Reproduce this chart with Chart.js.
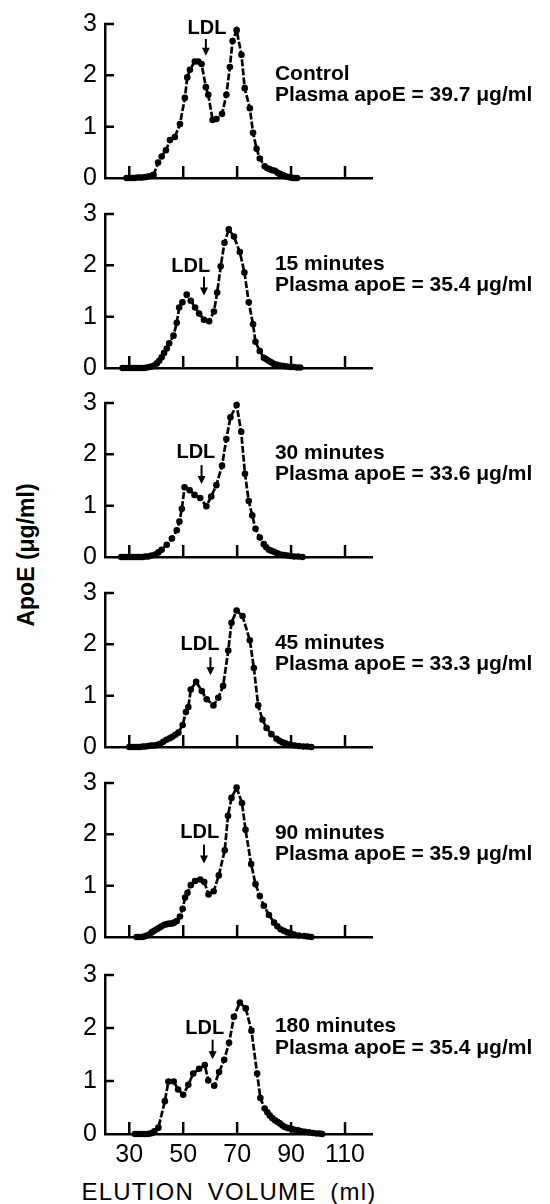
<!DOCTYPE html>
<html><head><meta charset="utf-8">
<script src="https://cdn.jsdelivr.net/npm/chart.js@4.4.1/dist/chart.umd.min.js"></script>
<style>
html,body{margin:0;padding:0;background:#fff;}
body{width:550px;height:1204px;position:relative;overflow:hidden;font-family:"Liberation Sans",Arial,sans-serif;color:#000;}
canvas{position:absolute;left:0;}
#ytitle{position:absolute;left:26px;top:555px;transform:translate(-50%,-50%) rotate(-90deg);font-size:23px;font-weight:bold;white-space:nowrap;}
#xtitle{position:absolute;left:229px;top:1192px;transform:translate(-50%,-50%);font-size:24px;letter-spacing:1.2px;word-spacing:6px;white-space:nowrap;}
</style></head>
<body>
<div id="ytitle">ApoE (μg/ml)</div>
<div id="xtitle">ELUTION VOLUME (ml)</div>
<script>
// ---- data ----
const xTicks = [30, 50, 70, 90, 110];
const yTicks = [0, 1, 2, 3];
const panelNames = ['Control', '15 minutes', '30 minutes', '45 minutes', '90 minutes', '180 minutes'];
const plasmaApoE = ['39.7', '35.4', '33.6', '33.3', '35.9', '35.4'];

const volControl = [29,30,31,32,33,34,35,36,37,38,39,40.7,42,43.6,45.1,46.9,48.8,50.6,51.5,52.5,54.3,55.6,56.8,58.4,59.3,60.9,62.3,64.4,66,67.3,68.3,69.8,71.6,72.8,74.7,75.9,77.2,78.4,80.2,81.2,82.1,83,84,85,85.8,86.6,87.3,88.1,88.9,89.8,90.7,91.5,92.2];
const apoControl = [0,0,0,0,0.01,0.01,0.01,0.02,0.03,0.04,0.06,0.30,0.42,0.54,0.74,0.80,1.05,1.56,1.96,2.11,2.27,2.27,2.22,1.77,1.62,1.13,1.15,1.25,1.62,2.16,2.67,2.88,2.40,1.75,1.36,0.88,0.57,0.38,0.23,0.19,0.17,0.15,0.14,0.10,0.08,0.06,0.05,0.03,0.02,0.01,0,0,0];

const vol15 = [27.5,28.5,29.5,30.5,31.5,32.5,33.5,34.5,35.5,36.5,37.5,38.3,39.2,40.2,41.1,42,42.9,43.9,44.8,46.4,47.6,48.5,49.7,51.3,52.8,54.4,55.9,57.7,59.6,61.4,62.6,63.9,65.3,66.9,68.8,71,72.7,74.3,75.9,76.8,78.4,79.9,80.8,81.7,82.6,83.6,84.8,86,87.2,88.5,89.8,91,92.2,93.4];
const apo15 = [0,0,0,0,0,0,0,0,0,0.01,0.02,0.03,0.05,0.09,0.14,0.21,0.29,0.38,0.48,0.63,0.88,1.18,1.28,1.43,1.31,1.18,1.06,0.94,0.91,1.10,1.47,1.98,2.44,2.70,2.56,2.26,1.86,1.28,0.85,0.51,0.33,0.20,0.17,0.14,0.11,0.08,0.06,0.05,0.04,0.03,0.02,0.02,0.01,0.01];

const vol30 = [27,28,29,30,31,32,33,34,35,36,37,38.2,39.6,40.8,42,43.9,45.8,47.6,48.6,49.5,50.5,52.4,54.2,56.3,58.6,60.4,62.3,64.4,66,67.5,69.8,71.5,72.9,74.3,75.6,76.8,78.4,79.9,80.8,81.8,82.7,83.7,84.9,86.1,87.3,88.6,89.8,91.1,92.6,94.2];
const apo30 = [0,0,0,0,0,0,0,0,0,0.01,0.01,0.03,0.05,0.09,0.14,0.24,0.36,0.52,0.69,0.94,1.36,1.30,1.21,1.15,0.99,1.18,1.40,1.78,2.30,2.72,2.96,2.44,1.62,1.09,0.81,0.55,0.38,0.25,0.19,0.14,0.12,0.10,0.07,0.05,0.04,0.03,0.02,0.01,0.01,0];

const vol45 = [30,31,32,33,34,35,36,37,38,39,40,41.4,42.6,43.8,45,46,47.1,48.2,49.8,51,51.9,52.8,54.8,56.9,58.7,61.2,63,64.8,66.7,67.9,69.8,72,74.7,76.2,77.8,79.4,80.9,82.7,84.6,85.7,86.8,87.9,88.9,90.1,91.4,92.9,94.5,96,97.5];
const apo45 = [0,0,0,0,0,0.01,0.01,0.02,0.03,0.03,0.04,0.06,0.10,0.14,0.17,0.20,0.24,0.28,0.43,0.68,0.78,1.12,1.27,1.09,0.93,0.81,0.96,1.19,1.88,2.42,2.66,2.55,2.08,1.54,0.81,0.53,0.37,0.25,0.16,0.12,0.09,0.07,0.05,0.04,0.03,0.02,0.01,0.01,0];

const vol90 = [32.7,33.6,34.6,35.5,36.5,37.4,38.3,39.2,40.2,41.1,42,43,43.9,44.8,45.7,46.6,47.6,48.8,49.8,50.7,51.6,52.8,54.4,56.3,57.8,59.4,61.3,63.2,65.4,66.6,67.9,69.8,71.8,73.1,75.2,76.8,78.4,79.9,81.8,83.7,84.9,86.1,87.3,88.6,89.8,91.1,92.9,94.8,96.2,97.5];
const apo90 = [0,0,0,0.01,0.03,0.05,0.09,0.12,0.15,0.18,0.21,0.24,0.25,0.26,0.26,0.28,0.31,0.40,0.55,0.77,0.86,1.01,1.09,1.12,1.07,0.83,0.89,1.20,1.69,2.36,2.71,2.91,2.61,2.09,1.42,1.03,0.80,0.61,0.43,0.28,0.21,0.15,0.12,0.09,0.07,0.05,0.03,0.02,0.01,0];

const vol180 = [32.1,33,34,34.9,35.8,36.8,37.7,38.5,39.3,40.8,43.2,44.5,46.5,48.1,50,51.9,53.7,55.9,58,59.3,61.5,63.3,65.2,67,68.8,71,73.2,75.3,77.4,78.6,80.2,81.2,82.1,83,84,84.9,85.8,86.8,87.7,88.9,90.1,91.3,92.6,93.8,95.1,96.6,98.1,99.4,100.6,101.5];
const apo180 = [0,0,0,0,0,0,0.01,0.02,0.05,0.12,0.62,0.99,0.99,0.84,0.74,0.93,1.14,1.23,1.30,1.01,0.91,1.17,1.40,1.72,2.21,2.48,2.37,1.95,1.14,0.68,0.48,0.41,0.35,0.30,0.26,0.23,0.20,0.16,0.13,0.11,0.10,0.08,0.07,0.05,0.04,0.03,0.02,0.01,0.01,0];

const volumes = [volControl, vol15, vol30, vol45, vol90, vol180];
const apoE = [apoControl, apo15, apo30, apo45, apo90, apo180];

// LDL marker (elution volume of arrow, label) and its levels
const ldlArrowVol = [58.4, 57.7, 56.8, 60.1, 57.7, 60.9];
const ldlArrowTop = [2.71, 1.78, 1.79, 1.75, 1.80, 1.78];
const ldlArrowTip = [2.38, 1.41, 1.42, 1.40, 1.43, 1.41];
const ldlLabelVol = [58.8, 52.8, 54.7, 56.2, 56.1, 58.0];
const ldlLabelLevel = [2.92, 1.97, 2.03, 1.99, 2.04, 2.00];

// ---- layout ----
const baselines = [183, 372.5, 562, 752, 942, 1134];
const PLOT_H = 162, PAD_T = 20;
const FONT = '"Liberation Sans", Arial, sans-serif';

const annotPlugin = {
  id: 'annot',
  afterDraw(chart) {
    const k = chart.options.plugins.annot.k;
    const { ctx, chartArea } = chart;
    const x = chart.scales.x, y = chart.scales.y;
    ctx.save();
    ctx.strokeStyle = '#000'; ctx.fillStyle = '#000';
    ctx.lineWidth = 2.5;
    ctx.beginPath();
    yTicks.forEach(v => {
      if (v > 0) { const py = y.getPixelForValue(v); ctx.moveTo(chartArea.left - 1, py); ctx.lineTo(chartArea.left + 9, py); }
    });
    xTicks.forEach(v => {
      const px = x.getPixelForValue(v); ctx.moveTo(px, chartArea.bottom); ctx.lineTo(px, chartArea.bottom - 12);
    });
    ctx.stroke();
    // LDL label + arrow
    ctx.font = 'bold 20px ' + FONT;
    ctx.textAlign = 'center'; ctx.textBaseline = 'middle';
    ctx.fillText('LDL', x.getPixelForValue(ldlLabelVol[k]), y.getPixelForValue(ldlLabelLevel[k]));
    const ax = x.getPixelForValue(ldlArrowVol[k]);
    const y1 = y.getPixelForValue(ldlArrowTop[k]), y2 = y.getPixelForValue(ldlArrowTip[k]);
    ctx.lineWidth = 2;
    ctx.beginPath(); ctx.moveTo(ax, y1); ctx.lineTo(ax, y2 - 6); ctx.stroke();
    ctx.beginPath(); ctx.moveTo(ax - 4, y2 - 8); ctx.lineTo(ax + 4, y2 - 8); ctx.lineTo(ax, y2); ctx.closePath(); ctx.fill();
    // panel captions
    ctx.textAlign = 'left';
    ctx.font = 'bold 21px ' + FONT;
    const tx = x.getPixelForValue(84);
    ctx.fillText(panelNames[k], tx, y.getPixelForValue(2.03));
    ctx.fillText('Plasma apoE = ' + plasmaApoE[k] + ' μg/ml', tx, y.getPixelForValue(1.61));
    ctx.restore();
  }
};

volumes.forEach((vols, k) => {
  const bottom = k === volumes.length - 1;
  const top = baselines[k] - PLOT_H - PAD_T;
  const h = bottom ? 1204 - top : 200;
  const xH = bottom ? h - PAD_T - PLOT_H : 0;
  const cv = document.createElement('canvas');
  cv.width = 550; cv.height = h;
  cv.style.top = top + 'px';
  cv.style.width = '550px'; cv.style.height = h + 'px';
  document.body.appendChild(cv);
  new Chart(cv, {
    type: 'line',
    data: {
      datasets: [{
        data: vols.map((v, i) => ({ x: v, y: apoE[k][i] })),
        borderColor: '#000', backgroundColor: '#000',
        borderWidth: 2.7, borderDash: [7, 2],
        pointRadius: 3.3, pointBorderWidth: 0, pointBackgroundColor: '#000',
        tension: 0, fill: false, clip: false
      }]
    },
    options: {
      responsive: false, animation: false, devicePixelRatio: 1, events: [],
      layout: { autoPadding: false, padding: { top: PAD_T, right: 178, left: 0, bottom: bottom ? 0 : h - PAD_T - PLOT_H } },
      plugins: { legend: { display: false }, tooltip: { enabled: false }, annot: { k } },
      scales: {
        x: {
          type: 'linear', min: 21, max: 120,
          grid: { display: false, drawTicks: false },
          border: { display: true, color: '#000', width: 2.5 },
          afterBuildTicks: s => { s.ticks = xTicks.map(v => ({ value: v })); },
          afterFit: s => { s.height = xH; },
          ticks: { display: bottom, color: '#000', padding: 6, font: { family: FONT, size: 25 } }
        },
        y: {
          type: 'linear', min: 0, max: 3,
          grid: { display: false, drawTicks: false },
          border: { display: true, color: '#000', width: 2.5 },
          afterBuildTicks: s => { s.ticks = yTicks.map(v => ({ value: v })); },
          afterFit: s => { s.width = 105; },
          ticks: { color: '#000', padding: 8, font: { family: FONT, size: 25 } }
        }
      }
    },
    plugins: [annotPlugin]
  });
});
</script>
</body></html>
